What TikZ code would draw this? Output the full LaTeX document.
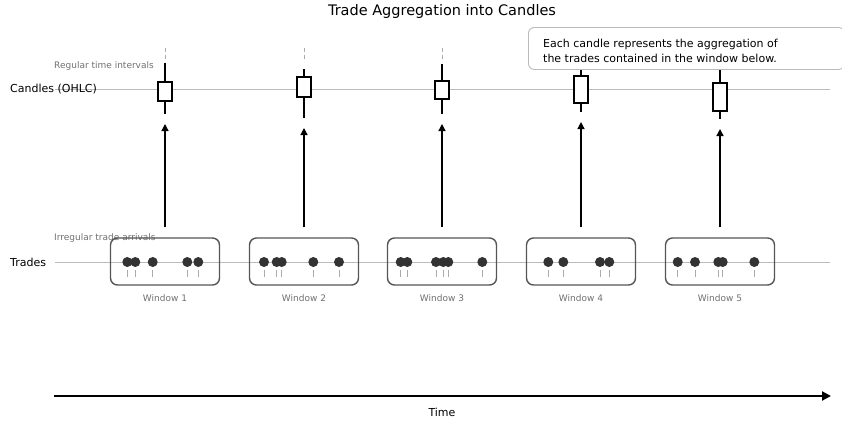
\documentclass[tikz,border=0pt]{standalone}
\usepackage{fontspec}
\setmainfont{DejaVu Sans}
\usetikzlibrary{arrows.meta}
\definecolor{axisgray}{HTML}{BBBBBB}
\definecolor{txtgray}{HTML}{707070}
\definecolor{dotgray}{HTML}{333333}
\definecolor{tickgray}{HTML}{AAAAAA}
\definecolor{boxgray}{HTML}{555555}
\tikzset{
  baseline/.style={draw=axisgray, line width=0.9pt},
  cbody/.style={draw=black, fill=white, line width=1.6pt, minimum width=14pt, inner sep=0pt},
  wick/.style={draw=black, line width=1.8pt},
  regtick/.style={draw=tickgray, line width=0.9pt, dash pattern=on 4pt off 3pt},
  upar/.style={draw=black, line width=1.3pt, -{Triangle[length=7pt,width=7pt]}},
  winbox/.style={draw=boxgray, line width=1.4pt, rounded corners=7pt, minimum width=109pt, minimum height=47pt, inner sep=0pt},
  trade/.style={circle, fill=dotgray, minimum size=10pt, inner sep=0pt},
  ttick/.style={draw=tickgray, line width=0.8pt},
  wlabel/.style={text=txtgray, font=\fontsize{9}{11}\selectfont},
  smalllabel/.style={text=txtgray, font=\fontsize{9}{11}\selectfont, anchor=west, inner sep=0pt},
  rowlabel/.style={font=\fontsize{11}{13}\selectfont, anchor=west, inner sep=0pt},
}
\begin{document}
\begin{tikzpicture}[x=1pt,y=-1pt]
\useasboundingbox (0,0) rectangle (842,423);
% title
\node[font=\fontsize{14.5}{17}\selectfont] (title) at (442,11) {Trade Aggregation into Candles};
% baselines
\coordinate (cl0) at (55,89); \coordinate (cl1) at (830,89);
\coordinate (tl0) at (55,262); \coordinate (tl1) at (830,262);
\draw[baseline] (cl0) -- (cl1);
\draw[baseline] (tl0) -- (tl1);
% row labels
\node[rowlabel] (lcandles) at (10,89) {Candles (OHLC)};
\node[rowlabel] (ltrades) at (10,262) {Trades};
\node[smalllabel] (lreg) at (54,66) {Regular time intervals};
\node[smalllabel] (lirr) at (54,238) {Irregular trade arrivals};
% candles: x, body top, body bottom, wick top, wick bottom
\foreach \i/\x/\bt/\bb/\wt/\wb in {1/165/82/101/63/114, 2/304/77/97/69/118, 3/442/81/99/64/114, 4/581/76/103/63/112, 5/720/83/111/63/119}{
  \draw[regtick] (\x,48) -- (\x,62);
  \node[cbody, minimum height={(\bb-\bt)*1pt}] (c\i) at (\x,{(\bt+\bb)/2}) {};
  \coordinate (ut\i) at (\x,\wt);
  \coordinate (lb\i) at (\x,\wb);
  \draw[wick] (c\i.north) -- (ut\i);
  \draw[wick] (c\i.south) -- (lb\i);
}
% windows
\foreach \i/\x in {1/165, 2/304, 3/442, 4/581, 5/720}{
  \node[winbox] (w\i) at (\x,261.5) {};
  \node[wlabel] (wl\i) at (\x,298) {Window \i};
  \draw[upar, shorten >=10pt] ([yshift=10pt]w\i.north) -- (lb\i);
}
% trades
\foreach \x [count=\k] in {127.3,135.3,152.7,187.3,198.3, 264,276.7,281.7,313.3,339, 400.7,407.3,436,443.3,448.3,482.3, 548.3,563.3,600,609.3, 677.7,695,718.3,722.7,754.3}{
  \draw[ttick] (\x,270) -- (\x,277);
  \node[trade] (t\k) at (\x,262) {};
}
% annotation
\node[draw=axisgray, fill=white, line width=0.9pt, rounded corners=6pt, anchor=north west, minimum width=316pt, minimum height=42pt, inner sep=0pt] (note) at (528,27) {};
\node[anchor=west, align=left, inner sep=0pt, font=\fontsize{11}{15}\selectfont] (notetxt) at (543,50.5) {Each candle represents the aggregation of\\the trades contained in the window below.};
% time axis
\coordinate (ta0) at (54,396); \coordinate (ta1) at (831,396);
\draw[line width=2pt, -{Triangle[length=9pt,width=9pt]}] (ta0) -- (ta1);
\node[font=\fontsize{11}{13}\selectfont] (ltime) at (442,412) {Time};
\end{tikzpicture}
\end{document}
